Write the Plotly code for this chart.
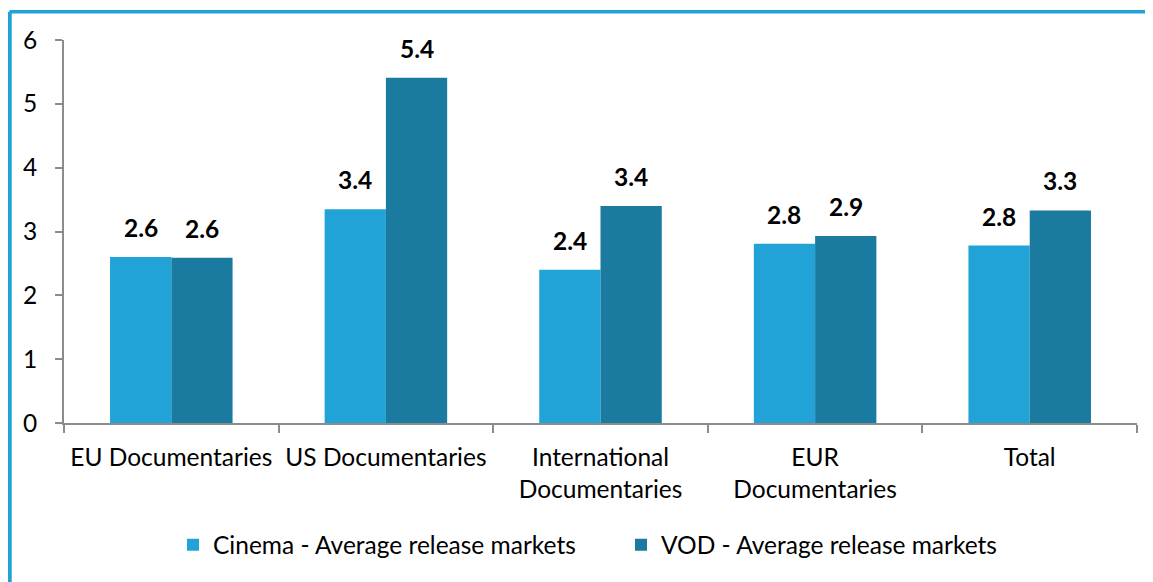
import plotly.graph_objects as go

categories = ["EU Documentaries", "US Documentaries", "International<br>Documentaries",
              "EUR<br>Documentaries", "Total"]
cinema = [2.60, 3.35, 2.40, 2.81, 2.78]
vod = [2.59, 5.41, 3.40, 2.93, 3.33]
series_names = ["Cinema - Average release markets", "VOD - Average release markets"]
colors = ["#22A3D7", "#1B7A9F"]
y_ticks = [0, 1, 2, 3, 4, 5, 6]

FONT = "Lato"
FS = 24.5
# the page body adds an 8px offset; the figure is sized to compensate
W, H = 1145, 574
L, R, T, B = 56, 16, 32, 159
plot_w = W - L - R
plot_h = H - T - B
bargap = 0.429
bar_px = plot_w / len(categories) * (1 - bargap) / 2

legend_ids = ["legend", "legend2"]
legend_px = [165, 613]

fig = go.Figure()
for name, vals, col, lg in zip(series_names, [cinema, vod], colors, legend_ids):
    fig.add_trace(go.Bar(x=categories, y=vals, name=name, marker_color=col,
                         marker_line_width=0, legend=lg))

annotations = []
for i, vals in enumerate([cinema, vod]):
    shift = (-0.5 if i == 0 else 0.5) * bar_px
    for c, v in zip(categories, vals):
        annotations.append(dict(x=c, y=v, text=f"<b>{v:.1f}</b>", showarrow=False,
                                xshift=shift, yshift=13, yanchor="bottom",
                                font=dict(family=FONT, size=FS, color="#000000")))

# frame lines (left and top) in light blue
fx = (1.5 - L) / plot_w
fy = 1 + (T - 3.7) / plot_h
shapes = [
    dict(type="line", xref="paper", yref="paper", x0=fx, x1=fx, y0=fy, y1=-2,
         line=dict(color="#22A3D7", width=4.5)),
    dict(type="line", xref="paper", yref="paper", x0=fx, x1=2, y0=fy, y1=fy,
         line=dict(color="#22A3D7", width=3.5)),
]

legend_common = dict(orientation="h", xanchor="left", y=-0.318, yanchor="middle",
                     font=dict(family=FONT, size=FS), itemwidth=30,
                     bgcolor="rgba(0,0,0,0)")

fig.update_layout(
    width=W, height=H,
    margin=dict(l=L, r=R, t=T, b=B, autoexpand=False),
    paper_bgcolor="white", plot_bgcolor="white",
    barmode="group", bargap=bargap, bargroupgap=0,
    font=dict(family=FONT, size=FS, color="#000000"),
    annotations=annotations,
    shapes=shapes,
    showlegend=True,
    legend=dict(x=(legend_px[0] - L) / plot_w, **legend_common),
    legend2=dict(x=(legend_px[1] - L) / plot_w, **legend_common),
    xaxis=dict(type="category", tickson="boundaries", ticks="outside", ticklen=8,
               tickwidth=2, tickcolor="#8C8C8C", showline=True, linecolor="#8C8C8C",
               linewidth=2, showgrid=False, ticklabelstandoff=12,
               tickfont=dict(family=FONT, size=FS)),
    yaxis=dict(range=[0, 6], tickvals=y_ticks, ticks="outside", ticklen=7,
               tickwidth=2, tickcolor="#8C8C8C", showline=True, linecolor="#8C8C8C",
               linewidth=2, showgrid=False, zeroline=False, ticklabelstandoff=13,
               tickfont=dict(family=FONT, size=FS)),
)

fig.write_html("out.html")
